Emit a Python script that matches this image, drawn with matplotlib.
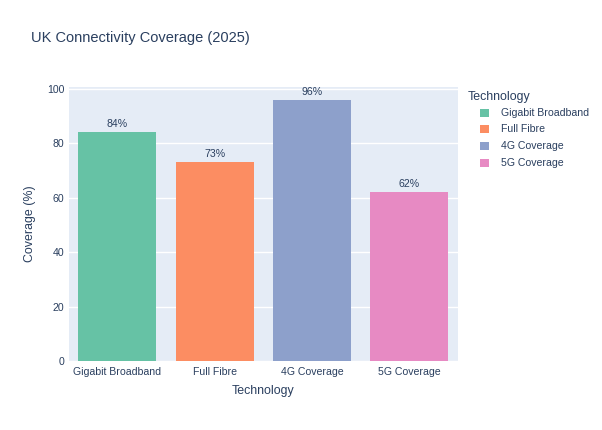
import matplotlib
matplotlib.use("Agg")
import matplotlib.pyplot as plt
from matplotlib.patches import Rectangle

categories = ["Gigabit Broadband", "Full Fibre", "4G Coverage", "5G Coverage"]
values = [84, 73, 96, 62]
labels = ["84%", "73%", "96%", "62%"]
colors = ["#66c2a5", "#fc8d62", "#8da0cb", "#e78ac3"]
yticks = [0, 20, 40, 60, 80, 100]

plt.rcParams['font.family'] = ['Liberation Sans', 'DejaVu Sans']
TXT = "#2a3f5f"
W, H = 602, 430
fig = plt.figure(figsize=(W/100, H/100), dpi=100)
l, r, t, b = 68.5, 458, 87, 361
ax = fig.add_axes([l/W, 1-b/H, (r-l)/W, (b-t)/H])
ax.set_facecolor("#e5ecf6")
for s in ax.spines.values():
    s.set_visible(False)
x = range(len(categories))
ax.bar(x, values, width=0.8, color=colors, zorder=3)
for i, (v, lab) in enumerate(zip(values, labels)):
    ax.text(i, v + 1.0, lab, ha="center", va="bottom", fontsize=7.6, color=TXT, zorder=4)
ax.set_xlim(-0.5, len(categories) - 0.5)
ax.set_ylim(0, 100.6)
ax.set_yticks(yticks)
ax.set_yticklabels([str(v) for v in yticks])
ax.set_xticks(list(x))
ax.set_xticklabels(categories)
ax.grid(axis="y", color="white", linewidth=1, zorder=1)
ax.tick_params(axis="both", length=0, labelsize=7.6, labelcolor=TXT)
ax.tick_params(axis="x", pad=4)
ax.tick_params(axis="y", pad=3)
ax.set_xlabel("Technology", fontsize=8.9, color=TXT)
ax.set_ylabel("Coverage (%)", fontsize=8.9, color=TXT)
ax.xaxis.set_label_coords(0.5, -(391 - b) / (b - t))
ax.xaxis.label.set_va("center")
ax.yaxis.set_label_coords(-(l - 30) / (r - l), 0.5)
ax.yaxis.label.set_va("center")
fig.text(30.7/W, 1-38/H, "UK Connectivity Coverage (2025)", fontsize=10.5, color=TXT, va="center", ha="left")

# legend
fig.text(468/W, 1-96.7/H, "Technology", fontsize=8.9, color=TXT, va="center", ha="left")
for k, (cat, c) in enumerate(zip(categories, colors)):
    yc = 112.8 + 16.6 * k
    fig.patches.append(Rectangle((480/W, 1-(yc+4)/H), 8.5/W, 8/H,
                                 transform=fig.transFigure, facecolor=c, edgecolor="none"))
    fig.text(501/W, 1-yc/H, cat, fontsize=7.6, color=TXT, va="center", ha="left")
fig.savefig("out.png", dpi=100, facecolor="white")
